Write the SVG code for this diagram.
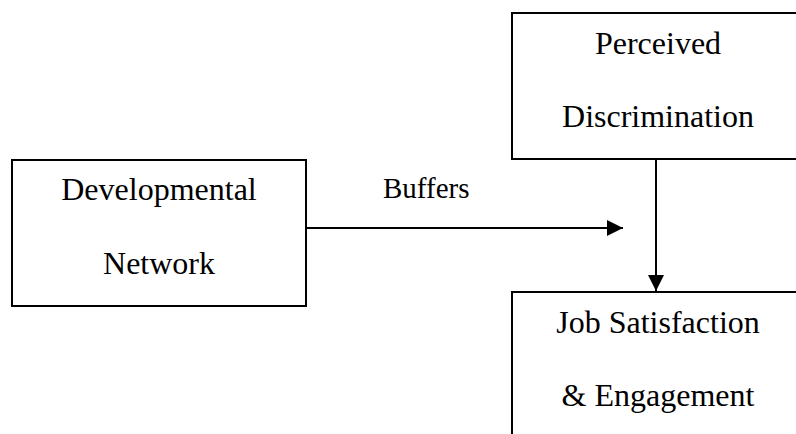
<svg xmlns="http://www.w3.org/2000/svg" width="796" height="434" viewBox="0 0 796 434">
<style>
.box{fill:#fff;stroke:#000;stroke-width:2}
.t{font-family:"Liberation Serif","Times New Roman",serif;font-size:32px;fill:#000}
.c{text-anchor:middle}
.ln{stroke:#000;stroke-width:2;fill:none}
</style>
<defs>
<marker id="ah" viewBox="0 0 16 16" refX="16" refY="8" markerWidth="16" markerHeight="16" markerUnits="userSpaceOnUse" orient="auto">
<path d="M0,0 L16,8 L0,16 Z" fill="#000"/>
</marker>
</defs>
<rect width="796" height="434" fill="#fff"/>
<g id="connectors">
<line class="ln" x1="306" y1="228" x2="623" y2="228" marker-end="url(#ah)"/>
<line class="ln" x1="656" y1="159" x2="656" y2="291" marker-end="url(#ah)"/>
<text class="t" x="383" y="198" style="font-size:29px">Buffers</text>
</g>
<g id="perceived">
<rect class="box" x="512" y="13" width="300" height="146"/>
<text class="t c" x="658" y="54">Perceived</text>
<text class="t c" x="658" y="127">Discrimination</text>
</g>
<g id="developmental">
<rect class="box" x="12" y="160" width="294" height="146"/>
<text class="t c" x="159" y="200">Developmental</text>
<text class="t c" x="159" y="274">Network</text>
</g>
<g id="job">
<rect class="box" x="512" y="292" width="300" height="160"/>
<text class="t c" x="658" y="333">Job Satisfaction</text>
<text class="t c" x="658" y="406">&amp; Engagement</text>
</g>
</svg>
